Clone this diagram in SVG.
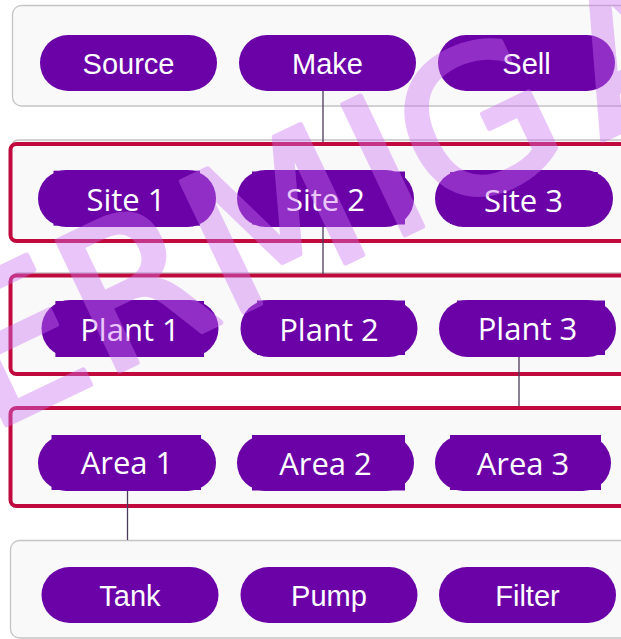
<svg xmlns="http://www.w3.org/2000/svg" width="621" height="639" viewBox="0 0 621 639">
<style>
.bg{fill:#ffffff}
.grp{fill:#f9f9f9;stroke:#c4c4c4;stroke-width:1.3}
.sel{fill:#f9f9f9;stroke:#c00a3e;stroke-width:4}
.pill{fill:#6a02a8}
.t1{font-family:"Liberation Sans",Arial,sans-serif;font-size:29px;fill:#ffffff;text-anchor:middle}
.t2{font-family:"Open Sans","Noto Sans",sans-serif;font-size:31px;fill:#ffffff;text-anchor:middle}
.con{stroke:#4c3a5e;stroke-width:1.3;fill:none}
.wm{font-family:"DejaVu Sans",sans-serif;font-size:198px;fill:#cc70f2;stroke:#cc70f2;stroke-width:5;stroke-linejoin:round}
</style>
<rect class="bg" x="0" y="0" width="621" height="639"/>

<g id="boxes">
<rect id="box-process" class="grp" x="12.5" y="5.5" width="640" height="100.5" rx="9"/>
<rect class="grp" x="12" y="140" width="640" height="100" rx="6"/>
<rect id="box-site" class="sel" x="10.5" y="144" width="640" height="97" rx="6"/>
<rect class="grp" x="12" y="273" width="640" height="100" rx="6"/>
<rect id="box-plant" class="sel" x="10.5" y="275.5" width="640" height="98.5" rx="6"/>
<rect id="box-area" class="sel" x="10.5" y="408" width="640" height="98" rx="6"/>
<rect id="box-equipment" class="grp" x="10.5" y="540.5" width="640" height="97.5" rx="9"/>
</g>

<g id="connectors">
<line class="con" x1="323" y1="91" x2="323" y2="142"/>
<line class="con" x1="323" y1="227" x2="323" y2="274"/>
<line class="con" x1="519" y1="357" x2="519" y2="406"/>
<line class="con" x1="127.5" y1="491" x2="127.5" y2="540"/>
</g>

<g id="source"><rect class="pill" x="40" y="35" width="177" height="56" rx="28"/><text class="t1" x="128.5" y="74">Source</text></g>
<g id="make"><rect class="pill" x="239" y="35" width="177" height="56" rx="28"/><text class="t1" x="327.5" y="74">Make</text></g>
<g id="sell"><rect class="pill" x="438" y="35" width="177" height="56" rx="28"/><text class="t1" x="526.5" y="74">Sell</text></g>

<g id="site1"><rect class="pill" x="38" y="170" width="178" height="57" rx="28.5"/><rect class="pill" x="53.5" y="170.7" width="146.5" height="55"/><text class="t2" x="126" y="210.5">Site 1</text></g>
<g id="site2"><rect class="pill" x="237" y="170" width="177" height="57" rx="28.5"/><rect class="pill" x="252" y="171.5" width="153" height="53"/><text class="t2" x="325.5" y="210.5">Site 2</text></g>
<g id="site3"><rect class="pill" x="435" y="170" width="178" height="57" rx="28.5"/><rect class="pill" x="450" y="172" width="147.7" height="52"/><text class="t2" x="523.5" y="211.5">Site 3</text></g>

<g id="plant1"><rect class="pill" x="41.5" y="300" width="177" height="57" rx="28.5"/><rect class="pill" x="55.4" y="301" width="148.6" height="56"/><text class="t2" x="130" y="341">Plant 1</text></g>
<g id="plant2"><rect class="pill" x="240.5" y="300" width="177" height="57" rx="28.5"/><rect class="pill" x="257" y="300.5" width="148" height="54.5"/><text class="t2" x="329" y="341">Plant 2</text></g>
<g id="plant3"><rect class="pill" x="439" y="300" width="177" height="57" rx="28.5"/><rect class="pill" x="457" y="300.5" width="148" height="54.5"/><text class="t2" x="527.5" y="340">Plant 3</text></g>

<g id="area1"><rect class="pill" x="38" y="435" width="178" height="56" rx="28"/><rect class="pill" x="51.5" y="435" width="149.5" height="55"/><text class="t2" x="127" y="474">Area 1</text></g>
<g id="area2"><rect class="pill" x="237" y="435" width="177" height="56" rx="28"/><rect class="pill" x="252" y="435" width="153" height="55.5"/><text class="t2" x="325.5" y="475">Area 2</text></g>
<g id="area3"><rect class="pill" x="435" y="435" width="176" height="56" rx="28"/><rect class="pill" x="450" y="435" width="151" height="55"/><text class="t2" x="523" y="475">Area 3</text></g>

<g id="tank"><rect class="pill" x="41.5" y="567" width="177" height="56" rx="28"/><text class="t1" x="130" y="606">Tank</text></g>
<g id="pump"><rect class="pill" x="240.5" y="567" width="177" height="56" rx="28"/><text class="t1" x="329" y="606">Pump</text></g>
<g id="filter"><rect class="pill" x="439" y="567" width="177" height="56" rx="28"/><text class="t1" x="527.5" y="606">Filter</text></g>

<g id="watermark" opacity="0.4">
<text class="wm" transform="translate(-11,433) rotate(-25.5)" x="0" y="0" dx="0 0 0 8 -3 28">ERMIGA</text>
</g>
</svg>
